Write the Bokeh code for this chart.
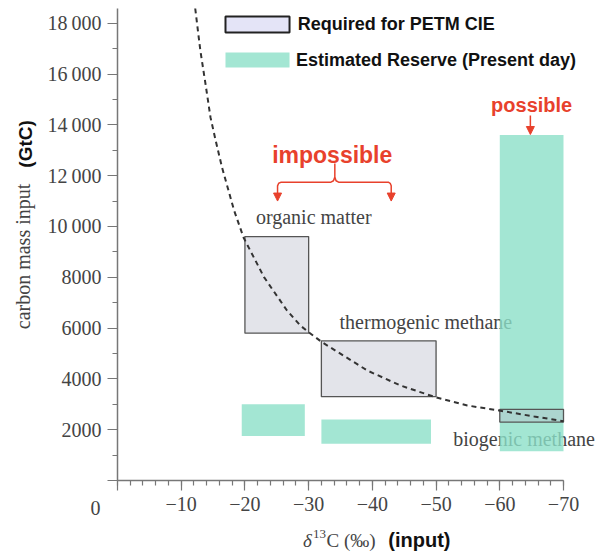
from bokeh.plotting import figure
from bokeh.models import (Range1d, FixedTicker, Label, Arrow, NormalHead, LinearAxis)
from bokeh.embed import file_html
from bokeh.resources import INLINE
import math

# ---------------- data ----------------
sources = ["organic matter", "thermogenic methane", "biogenic methane"]

# Required for PETM CIE (delta13C range, mass range in GtC)
req_d13c_a = [-20, -32, -60]
req_d13c_b = [-30, -50, -70]
req_mass_lo = [5800, 3300, 2300]
req_mass_hi = [9600, 5500, 2800]

# Estimated reserve (present day)
res_d13c_a = [-19.5, -32, -60]
res_d13c_b = [-29.4, -49.2, -70]
res_mass_lo = [1750, 1450, 1150]
res_mass_hi = [3000, 2400, 13600]

# dashed mass-balance curve
curve_d13c = [-12.2, -13.0, -13.8, -14.6, -15.4, -16.4, -18.3, -19.8, -23.0, -26.6,
              -28.7, -30.0, -32.1, -39.2, -44.4, -49.9, -54.9, -59.9, -65.4, -70.0]
curve_mass = [18580, 16930, 15630, 14290, 13390, 12330, 10630, 9555, 8004, 6693,
              6100, 5839, 5445, 4331, 3740, 3280, 2953, 2756, 2520, 2335]

x_ticks = [0, -10, -20, -30, -40, -50, -60, -70]
x_tick_labels = ["", "\u221210", "\u221220", "\u221230", "\u221240", "\u221250", "\u221260", "\u221270"]
y_ticks = [0, 2000, 4000, 6000, 8000, 10000, 12000, 14000, 16000, 18000]
y_tick_labels = ["", "2000", "4000", "6000", "8000", "10\u2009000", "12\u2009000",
                 "14\u2009000", "16\u2009000", "18\u2009000"]

# ---------------- styles ----------------
SERIF = "Liberation Serif"
SANS = "Liberation Sans"
RED = "#e8412c"
GREEN = "#a3e6d3"
GREEN_T = "#8ce0c8"   # same look as GREEN over white at alpha 0.8
TXT = "#444444"

X_MIN, X_MAX = -70, 0
Y_MIN, Y_MAX = 0, 18580
# frame covers the whole canvas; axes sit at x=0 / y=0 via fixed_location
px_x = 446 / 70.0
px_y = 472 / 18580.0
p = figure(width=596, height=554, output_backend="svg", toolbar_location=None,
           x_range=Range1d(117 / px_x, -70 - 33 / px_x),
           y_range=Range1d(-74 / px_y, 18580 + 8 / px_y),
           min_border_left=0, min_border_right=0, min_border_top=0, min_border_bottom=0,
           x_axis_type=None, y_axis_type=None)
p.outline_line_color = None
p.xgrid.visible = False
p.ygrid.visible = False
p.background_fill_color = "white"
p.border_fill_color = "white"

def style_axis(ax):
    ax.axis_line_color = "#777777"
    ax.axis_line_width = 1.5
    ax.major_tick_line_color = "#777777"
    ax.minor_tick_line_color = "#777777"
    ax.major_tick_line_width = 1.2
    ax.minor_tick_line_width = 1.2
    ax.major_tick_in = 0
    ax.major_tick_out = 10
    ax.minor_tick_in = 0
    ax.minor_tick_out = 5
    ax.major_label_text_font = SERIF
    ax.major_label_text_font_size = "20px"
    ax.major_label_text_color = TXT

xaxis = LinearAxis(ticker=FixedTicker(ticks=x_ticks,
                                      minor_ticks=[-v for v in range(0, 71, 2)]),
                   fixed_location=0, bounds=(X_MIN, X_MAX))
xaxis.major_label_overrides = dict(zip(x_ticks, x_tick_labels))
style_axis(xaxis)
xaxis.major_label_standoff = 6
p.add_layout(xaxis, "below")

yaxis = LinearAxis(ticker=FixedTicker(ticks=y_ticks,
                                      minor_ticks=list(range(1000, 18001, 1000))),
                   fixed_location=0, bounds=(Y_MIN, Y_MAX))
yaxis.major_label_overrides = dict(zip(y_ticks, y_tick_labels))
style_axis(yaxis)
yaxis.major_label_standoff = 6
p.add_layout(yaxis, "left")

# ---------- category labels (under the reserve bars) ----------
p.add_layout(Label(x=-30.8, y=10354, text=sources[0], text_font=SERIF, text_font_size="20px",
                   text_color=TXT, text_baseline="middle", text_align="center",
                   level="underlay"))
p.add_layout(Label(x=-34.85, y=6220, text=sources[1], text_font=SERIF, text_font_size="20px",
                   text_color=TXT, text_baseline="middle", text_align="left",
                   level="underlay"))
p.add_layout(Label(x=-52.7, y=1614, text=sources[2], text_font=SERIF, text_font_size="20px",
                   text_color=TXT, text_baseline="middle", text_align="left",
                   level="underlay"))

# reserve rectangles
p.quad(left=res_d13c_a, right=res_d13c_b, bottom=res_mass_lo, top=res_mass_hi,
       fill_color=GREEN_T, fill_alpha=0.8, line_color=None)
# required rectangles
p.quad(left=req_d13c_a, right=req_d13c_b, bottom=req_mass_lo, top=req_mass_hi,
       fill_color="#b8bccb", fill_alpha=0.4, line_color="#555555", line_width=1.3)

# dashed curve
p.line(curve_d13c, curve_mass, line_color="#333333", line_width=2, line_dash="5 4")

# ---------- legend (manual swatches) ----------
p.quad(left=[-16.95], right=[-27.0], bottom=[17640], top=[18270],
       fill_color="#e4e4f7", line_color="#222222", line_width=2)
p.quad(left=[-16.95], right=[-27.0], bottom=[16260], top=[16850],
       fill_color=GREEN, line_color=None)
p.add_layout(Label(x=-28.3, y=17953, text="Required for PETM CIE", text_font=SANS,
                   text_font_style="bold", text_font_size="18px", text_color="#111111",
                   text_baseline="middle", text_align="left"))
p.add_layout(Label(x=-28.0, y=16535, text="Estimated Reserve (Present day)", text_font=SANS,
                   text_font_style="bold", text_font_size="18px", text_color="#111111",
                   text_baseline="middle", text_align="left"))

# ---------- impossible / possible annotations ----------
p.add_layout(Label(x=-33.7, y=12795, text="impossible", text_font=SANS, text_font_style="bold",
                   text_font_size="23px", text_color=RED, text_baseline="middle",
                   text_align="center"))
p.add_layout(Label(x=-65.0, y=14764, text="possible", text_font=SANS, text_font_style="bold",
                   text_font_size="20px", text_color=RED, text_baseline="middle",
                   text_align="center"))
brace_x = [-25.12, -25.12, -25.3, -25.7, -33.5, -33.9, -34.11, -34.11,
           -34.11, -34.3, -34.7, -42.5, -42.8, -42.96, -42.96]
brace_y = [11142, 11600, 11700, 11744, 11744, 11800, 11950, 12480,
           11950, 11800, 11744, 11744, 11700, 11600, 11142]
p.line(brace_x, brace_y, line_color=RED, line_width=1.5)
for bx in (-25.12, -42.96):
    p.add_layout(Arrow(end=NormalHead(size=8, fill_color=RED, line_color=RED),
                       x_start=bx, y_start=11300, x_end=bx, y_end=11000,
                       line_color=RED, line_width=1.5))
p.add_layout(Arrow(end=NormalHead(size=8, fill_color=RED, line_color=RED),
                   x_start=-64.8, y_start=14370, x_end=-64.8, y_end=13620,
                   line_color=RED, line_width=1.5))

# ---------- "0" tick label (offset to the left) ----------
p.add_layout(Label(x=3.45, y=-1102, text="0", text_font=SERIF, text_font_size="20px",
                   text_color=TXT, text_baseline="middle", text_align="center"))

# ---------- axis titles ----------
p.add_layout(Label(x=14.9, y=8819, text="carbon mass input", text_font=SERIF,
                   text_font_size="20px", text_color=TXT, angle=math.pi / 2,
                   text_baseline="middle", text_align="center"))
p.add_layout(Label(x=14.5, y=13248, text="(GtC)", text_font=SANS, text_font_style="bold",
                   text_font_size="19px", text_color="#111111", angle=math.pi / 2,
                   text_baseline="middle", text_align="center"))

xl_y = -2360
p.add_layout(Label(x=-29.1, y=xl_y, text="\u03b4", text_font=SERIF, text_font_style="italic",
                   text_font_size="19px", text_color=TXT, text_baseline="middle",
                   text_align="left"))
p.add_layout(Label(x=-30.7, y=xl_y + 250, text="13", text_font=SERIF,
                   text_font_size="13px", text_color=TXT, text_baseline="middle",
                   text_align="left"))
p.add_layout(Label(x=-32.8, y=xl_y, text="C (\u2030)", text_font=SERIF,
                   text_font_size="19px", text_color=TXT, text_baseline="middle",
                   text_align="left"))
p.add_layout(Label(x=-42.5, y=xl_y, text="(input)", text_font=SANS, text_font_style="bold",
                   text_font_size="20px", text_color="#111111", text_baseline="middle",
                   text_align="left"))

open("out.html", "w").write(file_html(p, INLINE))
